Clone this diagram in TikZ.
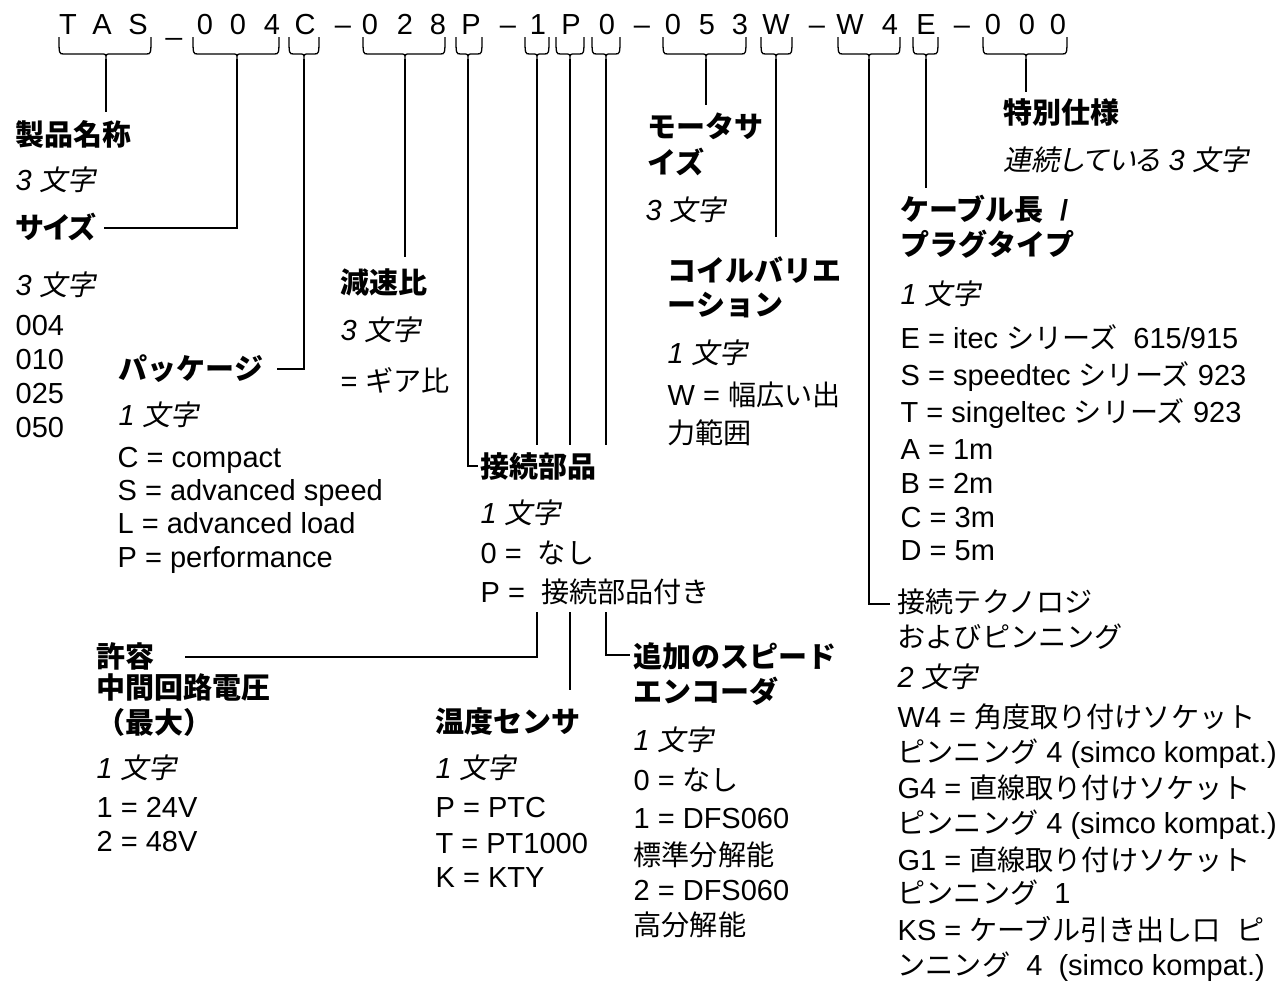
\documentclass[tikz,border=0pt]{standalone}
\usepackage{fontspec}
\setmainfont{Liberation Sans}
\newfontfamily\jpf{Noto Sans CJK JP}[Scale=0.97]
\newfontfamily\jpbf{Noto Sans CJK JP}[Scale=1.0]
\newfontfamily\jpbfp{Noto Sans CJK JP}[Scale=1.0,RawFeature=+palt]
\newfontfamily\jpsl{Noto Sans CJK JP}[Scale=0.97,FakeSlant=0.2]
\newfontfamily\jpslp{Noto Sans CJK JP}[Scale=0.97,FakeSlant=0.2,RawFeature=+palt]
\newcommand\jp[1]{{\jpf#1}}
\newcommand\jb[1]{{\jpbf\bfseries#1}}
\newcommand\jbp[1]{{\jpbfp\bfseries#1}}
\newcommand\jpi[1]{{\jpsl#1}}
\newcommand\jpip[1]{{\jpslp#1}}
\newcommand\codebrace[4]{%
  \coordinate (#1) at (#4,59);
  \draw (#2,37) .. controls (#2,54) .. (#2+5,54) -- (#4-5,54)
        .. controls (#4,54) .. (#1) .. controls (#4,54) .. (#4+5,54)
        -- (#3-5,54) .. controls (#3,54) .. (#3,37);}
\begin{document}
\begin{tikzpicture}[x=1pt,y=-1pt,line width=1.3pt,
  lbl/.style={anchor=base west,inner sep=0pt,font=\fontsize{29}{34}\selectfont},
  ttl/.style={anchor=base west,inner sep=0pt,font=\fontsize{29}{34}\selectfont\bfseries},
  itl/.style={anchor=base west,inner sep=0pt,font=\fontsize{29}{34}\selectfont\itshape},
  cch/.style={anchor=base,inner sep=0pt,font=\fontsize{29}{34}\selectfont}]
\useasboundingbox[fill=white] (0,0) rectangle (1285,997);

% ---- code line
\node[cch] (c1) at (68,34) {T};
\node[cch] (c2) at (102,34) {A};
\node[cch] (c3) at (138,34) {S};
\node[cch] (c4) at (174,34) {\_};
\node[cch] (c5) at (205,34) {0};
\node[cch] (c6) at (238,34) {0};
\node[cch] (c7) at (272,34) {4};
\node[cch] (c8) at (305,34) {C};
\node[cch] (c9) at (343,34) {–};
\node[cch] (c10) at (370,34) {0};
\node[cch] (c11) at (405,34) {2};
\node[cch] (c12) at (438,34) {8};
\node[cch] (c13) at (471,34) {P};
\node[cch] (c14) at (508,34) {–};
\node[cch] (c15) at (538,34) {1};
\node[cch] (c16) at (571,34) {P};
\node[cch] (c17) at (607,34) {0};
\node[cch] (c18) at (642,34) {–};
\node[cch] (c19) at (673,34) {0};
\node[cch] (c20) at (707,34) {5};
\node[cch] (c21) at (740,34) {3};
\node[cch] (c22) at (776,34) {W};
\node[cch] (c23) at (817,34) {–};
\node[cch] (c24) at (850,34) {W};
\node[cch] (c25) at (890,34) {4};
\node[cch] (c26) at (926,34) {E};
\node[cch] (c27) at (962,34) {–};
\node[cch] (c28) at (993,34) {0};
\node[cch] (c29) at (1027,34) {0};
\node[cch] (c30) at (1058,34) {0};

% ---- braces
\codebrace{bTAS}{59}{151}{106}
\codebrace{b004}{193}{279}{237}
\codebrace{bC}{289}{319}{304}
\codebrace{b028}{363}{445}{405}
\codebrace{bP}{456}{482}{468}
\codebrace{bOne}{525}{549}{537}
\codebrace{bPtwo}{556}{584}{570}
\codebrace{bZero}{592}{620}{606}
\codebrace{b053}{663}{746}{706}
\codebrace{bW}{761}{792}{776}
\codebrace{bWfour}{838}{900}{869}
\codebrace{bE}{913}{938}{926}
\codebrace{bSpec}{983}{1067}{1026}

% ---- end points
\coordinate (eTAS) at (106,112);
\coordinate (eSiz) at (104,228);
\coordinate (ePkg) at (277,369);
\coordinate (e028) at (405,257);
\coordinate (eConn) at (478,466);
\coordinate (uOne) at (537,445);
\coordinate (uPtwo) at (570,445);
\coordinate (uZero) at (606,445);
\coordinate (dOne) at (537,612);
\coordinate (dPtwo) at (570,612);
\coordinate (dZero) at (606,612);
\coordinate (eVolt) at (185,657);
\coordinate (eTemp) at (570,690);
\coordinate (eEnc) at (630,655);
\coordinate (e053) at (706,105);
\coordinate (eW) at (776,237);
\coordinate (eTech) at (890,604);
\coordinate (eE) at (926,188);
\coordinate (eSpec) at (1026,92);

\draw (bTAS) -- (eTAS);
\draw (b004) |- (eSiz);
\draw (bC) |- (ePkg);
\draw (b028) -- (e028);
\draw (bP) |- (eConn);
\draw (bOne) -- (uOne);
\draw (bPtwo) -- (uPtwo);
\draw (bZero) -- (uZero);
\draw (dOne) |- (eVolt);
\draw (dPtwo) -- (eTemp);
\draw (dZero) |- (eEnc);
\draw (b053) -- (e053);
\draw (bW) -- (eW);
\draw (bWfour) |- (eTech);
\draw (bE) -- (eE);
\draw (bSpec) -- (eSpec);

% ---- left column
\node[ttl] (t1) at (15,145) {\jb{製品名称}};
\node[itl] (t1a) at (15,190) {3 \jpi{文字}};
\node[ttl] (t2) at (15,238) {\jbp{サイズ}};
\node[itl] (t2a) at (15,295) {3 \jpi{文字}};
\node[lbl] (t2b) at (15,335) {004};
\node[lbl] (t2c) at (15,369) {010};
\node[lbl] (t2d) at (15,403) {025};
\node[lbl] (t2e) at (15,437) {050};

\node[ttl] (t3) at (118,379) {\jb{パッケージ}};
\node[itl] (t3a) at (118,425) {1 \jpi{文字}};
\node[lbl] (t3b) at (117,467) {C = compact};
\node[lbl] (t3c) at (117,500) {S = advanced speed};
\node[lbl] (t3d) at (117,533) {L = advanced load};
\node[lbl] (t3e) at (117,567) {P = performance};

\node[ttl] (t4) at (340,293) {\jb{減速比}};
\node[itl] (t4a) at (340,340) {3 \jpi{文字}};
\node[lbl] (t4b) at (340,391) {= \jp{ギア比}};

\node[ttl] (t5) at (480,477) {\jb{接続部品}};
\node[itl] (t5a) at (480,523) {1 \jpi{文字}};
\node[lbl] (t5b) at (480,563) {0 = \ \jp{なし}};
\node[lbl] (t5c) at (480,602) {P = \ \jp{接続部品付き}};

\node[ttl] (t6) at (96,667) {\jb{許容}};
\node[ttl] (t6a) at (96,698) {\jb{中間回路電圧}};
\node[ttl] (t6b) at (96,733) {\jb{（最大）}};
\node[itl] (t6c) at (96,778) {1 \jpi{文字}};
\node[lbl] (t6d) at (96,817) {1 = 24V};
\node[lbl] (t6e) at (96,851) {2 = 48V};

\node[ttl] (t7) at (435,732) {\jb{温度センサ}};
\node[itl] (t7a) at (435,778) {1 \jpi{文字}};
\node[lbl] (t7b) at (435,817) {P = PTC};
\node[lbl] (t7c) at (435,853) {T = PT1000};
\node[lbl] (t7d) at (435,887) {K = KTY};

\node[ttl] (t8) at (633,667) {\jb{追加のスピード}};
\node[ttl] (t8a) at (633,702) {\jb{エンコーダ}};
\node[itl] (t8b) at (633,750) {1 \jpi{文字}};
\node[lbl] (t8c) at (633,790) {0 = \jp{なし}};
\node[lbl] (t8d) at (633,828) {1 = DFS060};
\node[lbl] (t8e) at (633,865) {\jp{標準分解能}};
\node[lbl] (t8f) at (633,900) {2 = DFS060};
\node[lbl] (t8g) at (633,935) {\jp{高分解能}};

% ---- middle / right
\node[ttl] (t9) at (647,137) {\jb{モータサ}};
\node[ttl] (t9a) at (647,173) {\jb{イズ}};
\node[itl] (t9b) at (645,220) {3 \jpi{文字}};

\node[ttl] (t10) at (667,281) {\jb{コイルバリエ}};
\node[ttl] (t10a) at (667,315) {\jb{ーション}};
\node[itl] (t10b) at (667,363) {1 \jpi{文字}};
\node[lbl] (t10c) at (667,405) {W = \jp{幅広い出}};
\node[lbl] (t10d) at (667,443) {\jp{力範囲}};

\node[ttl] (t11) at (1003,123) {\jb{特別仕様}};
\node[itl] (t11a) at (1003,170) {\jpip{連続している} 3 \jpi{文字}};

\node[ttl] (t12) at (900,220) {\jb{ケーブル長} \ /};
\node[ttl] (t12a) at (900,255) {\jb{プラグタイプ}};
\node[itl] (t12b) at (900,304) {1 \jpi{文字}};
\node[lbl] (t12c) at (900,348) {E = itec \jp{シリーズ} \ 615/915};
\node[lbl] (t12d) at (900,385) {S = speedtec \jp{シリーズ} 923};
\node[lbl] (t12e) at (900,422) {T = singeltec \jp{シリーズ} 923};
\node[lbl] (t12f) at (900,459) {A = 1m};
\node[lbl] (t12g) at (900,493) {B = 2m};
\node[lbl] (t12h) at (900,527) {C = 3m};
\node[lbl] (t12i) at (900,560) {D = 5m};

\node[lbl] (t13) at (897,612) {\jp{接続テクノロジ}};
\node[lbl] (t13a) at (897,647) {\jp{およびピンニング}};
\node[itl] (t13b) at (897,687) {2 \jpi{文字}};
\node[lbl] (t13c) at (897,727) {W4 = \jp{角度取り付けソケット}};
\node[lbl] (t13d) at (897,762) {\jp{ピンニング} 4 (simco kompat.)};
\node[lbl] (t13e) at (897,798) {G4 = \jp{直線取り付けソケット}};
\node[lbl] (t13f) at (897,833) {\jp{ピンニング} 4 (simco kompat.)};
\node[lbl] (t13g) at (897,870) {G1 = \jp{直線取り付けソケット}};
\node[lbl] (t13h) at (897,903) {\jp{ピンニング} \ 1};
\node[lbl] (t13i) at (897,940) {KS = \jp{ケーブル引き出し口} \ \jp{ピ}};
\node[lbl] (t13j) at (897,975) {\jp{ンニング} \ 4 \ (simco kompat.)};
\end{tikzpicture}
\end{document}
